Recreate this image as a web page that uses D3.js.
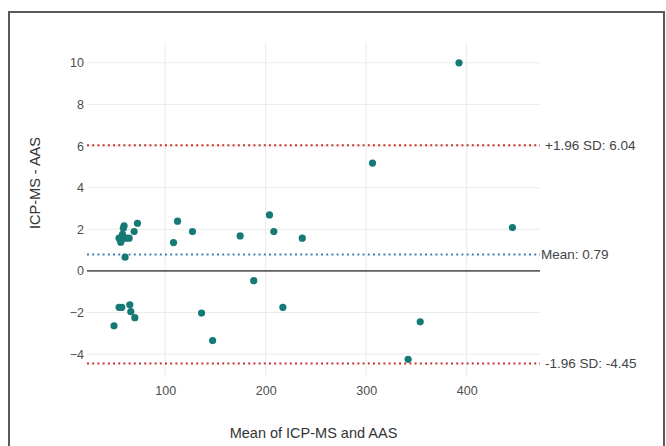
<!DOCTYPE html>
<html>
<head>
<meta charset="utf-8">
<script src="https://cdn.jsdelivr.net/npm/d3@7"></script>
<style>
	body { margin: 0; background: #fff; }
	svg { display: block; font-family: "Liberation Sans", Arial, sans-serif; }
</style>
</head>
<body>
<svg id="chart" width="666" height="446"></svg>
<script>
	// Bland-Altman data
	let meanVals = [ 59.1, 58.4, 72.4, 69.1, 54.1, 57.4, 60.8, 64.1, 55.8, 60.1, 57.5,
		112.3, 108.3, 127.2, 174.6, 203.8, 208.1, 236.4, 188.1, 392.4, 306.3, 445.6,
		54.1, 56.8, 64.8, 65.8, 69.8, 49.1, 136.2, 147.2, 217.1, 353.8, 341.8 ];
	let diffVals = [ 2.16, 2.05, 2.29, 1.89, 1.57, 1.57, 1.57, 1.57, 1.38, 0.66, 1.75,
		2.39, 1.36, 1.89, 1.68, 2.69, 1.89, 1.57, -0.47, 10.0, 5.18, 2.08,
		-1.75, -1.75, -1.63, -1.96, -2.25, -2.64, -2.03, -3.35, -1.75, -2.45, -4.25 ];

	let limitVals = [ 6.04, 0.79, -4.45 ];
	let limitLabels = [ '+1.96 SD: 6.04', 'Mean: 0.79', '-1.96 SD: -4.45' ];
	let limitKinds = [ 'sd', 'mean', 'sd' ];

	let xTicks = [ 100, 200, 300, 400 ],
		yTicks = [ -4, -2, 0, 2, 4, 6, 8, 10 ];

	let svg = d3.select( '#chart' ),
		padL = 87, padR = 540, padT = 42, padB = 377;

	// outer frame
	svg.append( 'rect' )
		.attr( 'x', 9 ).attr( 'y', 12 )
		.attr( 'width', 655 ).attr( 'height', 460 )
		.style( 'fill', 'none' ).style( 'stroke', '#5a5a5a' ).style( 'stroke-width', 2 );

	let x = d3.scaleLinear().domain( [ 22.2, 473 ] ).range( [ padL, padR ] ),
		y = d3.scaleLinear().domain( [ -5.1, 11.0 ] ).range( [ padB, padT ] );

	// grid
	let grid = svg.append( 'g' ).attr( 'id', 'grid' );
	grid.selectAll( '.vg' ).data( xTicks ).enter().append( 'line' )
		.attr( 'x1', d => x( d ) ).attr( 'x2', d => x( d ) )
		.attr( 'y1', padT ).attr( 'y2', padB )
		.style( 'stroke', '#ebebeb' ).style( 'stroke-width', 1 );
	grid.selectAll( '.hg' ).data( yTicks ).enter().append( 'line' )
		.attr( 'x1', padL ).attr( 'x2', padR )
		.attr( 'y1', d => y( d ) ).attr( 'y2', d => y( d ) )
		.style( 'stroke', '#ebebeb' ).style( 'stroke-width', 1 );

	// axes (labels only, like theme_minimal)
	let xAxis = svg.append( 'g' )
		.attr( 'transform', 'translate(0,' + padB + ')' )
		.call( d3.axisBottom( x ).tickValues( xTicks ).tickSize( 0 ).tickPadding( 9 ) );
	let yAxis = svg.append( 'g' )
		.attr( 'transform', 'translate(' + padL + ',0)' )
		.call( d3.axisLeft( y ).tickValues( yTicks ).tickSize( 0 ).tickPadding( 3 ).tickFormat( d => d < 0 ? '\u2212' + Math.abs( d ) : d ) );
	[ xAxis, yAxis ].forEach( a => {
		a.select( '.domain' ).remove();
		a.selectAll( 'text' ).style( 'font-size', '12.5px' ).style( 'fill', '#4d4d4d' )
			.style( 'font-family', '"Liberation Sans", Arial, sans-serif' );
	} );

	// zero line
	svg.append( 'line' )
		.attr( 'x1', padL ).attr( 'x2', padR )
		.attr( 'y1', y( 0 ) ).attr( 'y2', y( 0 ) )
		.style( 'stroke', '#5f5f5f' ).style( 'stroke-width', 1.8 );

	// mean and limits of agreement
	limitVals.forEach( ( v, i ) => {
		let isMean = limitKinds[ i ] === 'mean';
		svg.append( 'line' )
			.attr( 'x1', padL ).attr( 'x2', padR )
			.attr( 'y1', y( v ) ).attr( 'y2', y( v ) )
			.style( 'stroke', isMean ? '#4a7cc0' : '#c8332c' )
			.style( 'stroke-width', 2 )
			.style( 'stroke-dasharray', '2,3.2' );
		svg.append( 'text' )
			.attr( 'x', isMean ? padR + 1 : padR + 5 )
			.attr( 'y', y( v ) + 5 )
			.text( limitLabels[ i ] )
			.style( 'font-size', '13.5px' ).style( 'fill', '#444' );
	} );

	// points
	svg.append( 'g' ).selectAll( 'circle' ).data( meanVals )
		.enter().append( 'circle' )
		.attr( 'cx', d => x( d ) )
		.attr( 'cy', ( d, i ) => y( diffVals[ i ] ) )
		.attr( 'r', 3.6 )
		.style( 'fill', '#157a76' );

	// axis titles
	svg.append( 'text' )
		.attr( 'x', ( padL + padR ) / 2 ).attr( 'y', 438 )
		.attr( 'text-anchor', 'middle' )
		.text( 'Mean of ICP-MS and AAS' )
		.style( 'font-size', '14.5px' ).style( 'fill', '#333' );
	svg.append( 'text' )
		.attr( 'transform', 'translate(40,183) rotate(-90)' )
		.attr( 'text-anchor', 'middle' )
		.text( 'ICP-MS - AAS' )
		.style( 'font-size', '14.5px' ).style( 'fill', '#333' );
</script>
</body>
</html>
